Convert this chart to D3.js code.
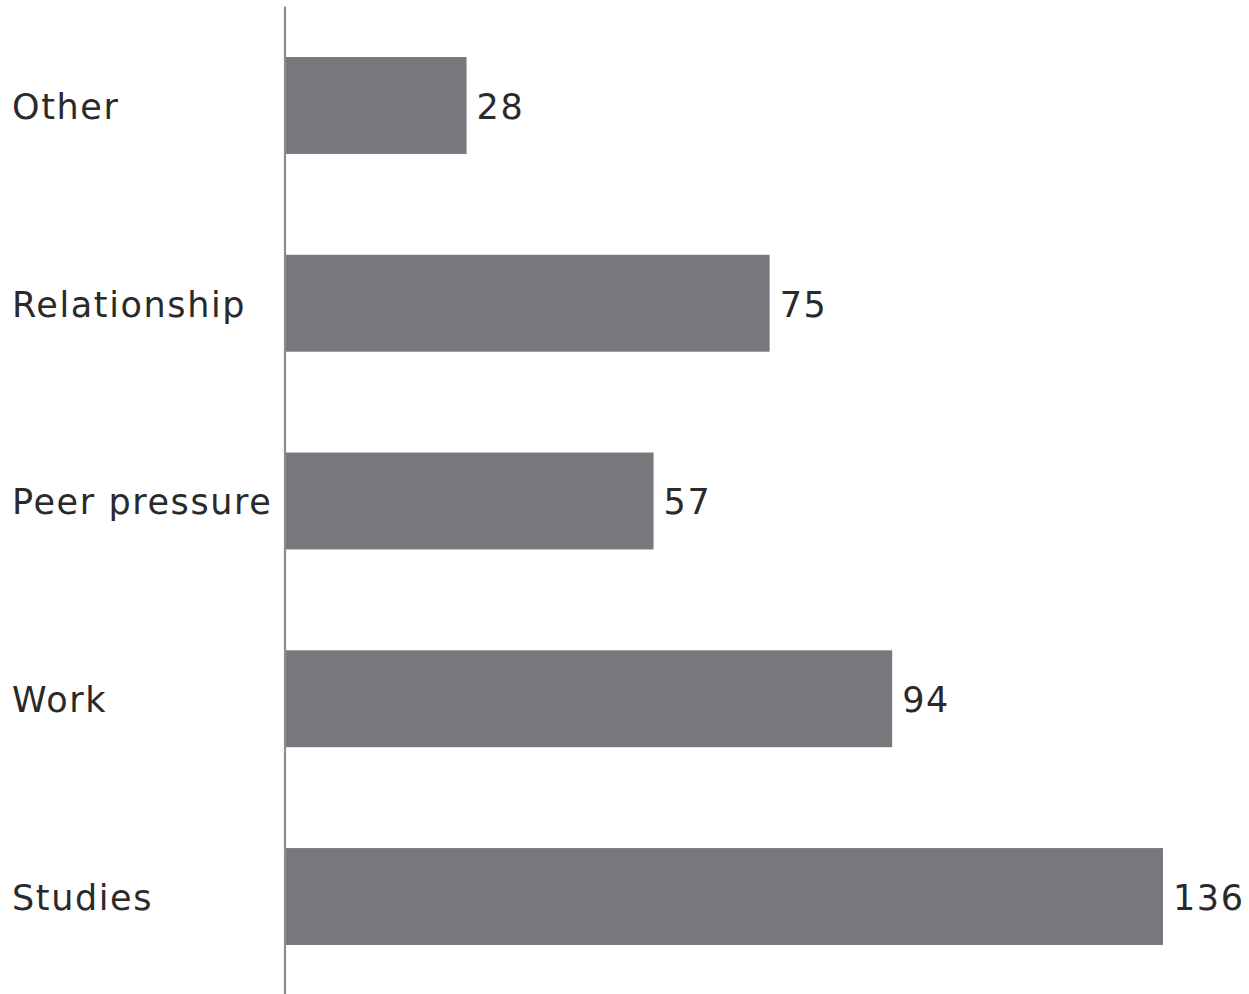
<!DOCTYPE html>
<html>
<head>
<meta charset="utf-8">
<script src="https://cdn.jsdelivr.net/npm/d3@7"></script>
<style>
  html, body { margin: 0; padding: 0; background: #fff; }
  svg { display: block; }
</style>
</head>
<body>
<svg id="chart" width="1249" height="994"></svg>
<script>
const categories = ["Other", "Relationship", "Peer pressure", "Work", "Studies"];
const values = [28, 75, 57, 94, 136];

const svg = d3.select("#chart");
const W = 1249, H = 994;

const x = d3.scaleLinear().domain([0, 136]).range([286, 1163]);
const y = d3.scaleBand().domain(categories).range([6.6, 995.4]).paddingInner(0.51).paddingOuter(0.255);

svg.selectAll("rect.bar")
  .data(categories)
  .enter().append("rect")
  .attr("class", "bar")
  .attr("x", x(0))
  .attr("y", d => y(d))
  .attr("width", (d, i) => x(values[i]) - x(0))
  .attr("height", y.bandwidth())
  .attr("fill", "#77787c");

svg.append("line")
  .attr("x1", 285).attr("x2", 285)
  .attr("y1", y.range()[0]).attr("y2", H)
  .attr("stroke", "#8c8c8c").attr("stroke-width", 2.2);

svg.selectAll("text.cat")
  .data(categories)
  .enter().append("text")
  .attr("class", "cat")
  .attr("x", 12)
  .attr("y", d => y(d) + y.bandwidth() / 2)
  .attr("dy", "0.38em")
  .attr("font-family", "DejaVu Sans, sans-serif")
  .attr("font-size", 35)
  .attr("letter-spacing", 1.6)
  .attr("fill", "#2a2a2a")
  .text(d => d);

svg.selectAll("text.val")
  .data(categories)
  .enter().append("text")
  .attr("class", "val")
  .attr("x", (d, i) => x(values[i]) + 10)
  .attr("y", d => y(d) + y.bandwidth() / 2)
  .attr("dy", "0.38em")
  .attr("font-family", "DejaVu Sans, sans-serif")
  .attr("font-size", 35)
  .attr("letter-spacing", 1.6)
  .attr("fill", "#2a2a2a")
  .text((d, i) => values[i]);
</script>
</body>
</html>
